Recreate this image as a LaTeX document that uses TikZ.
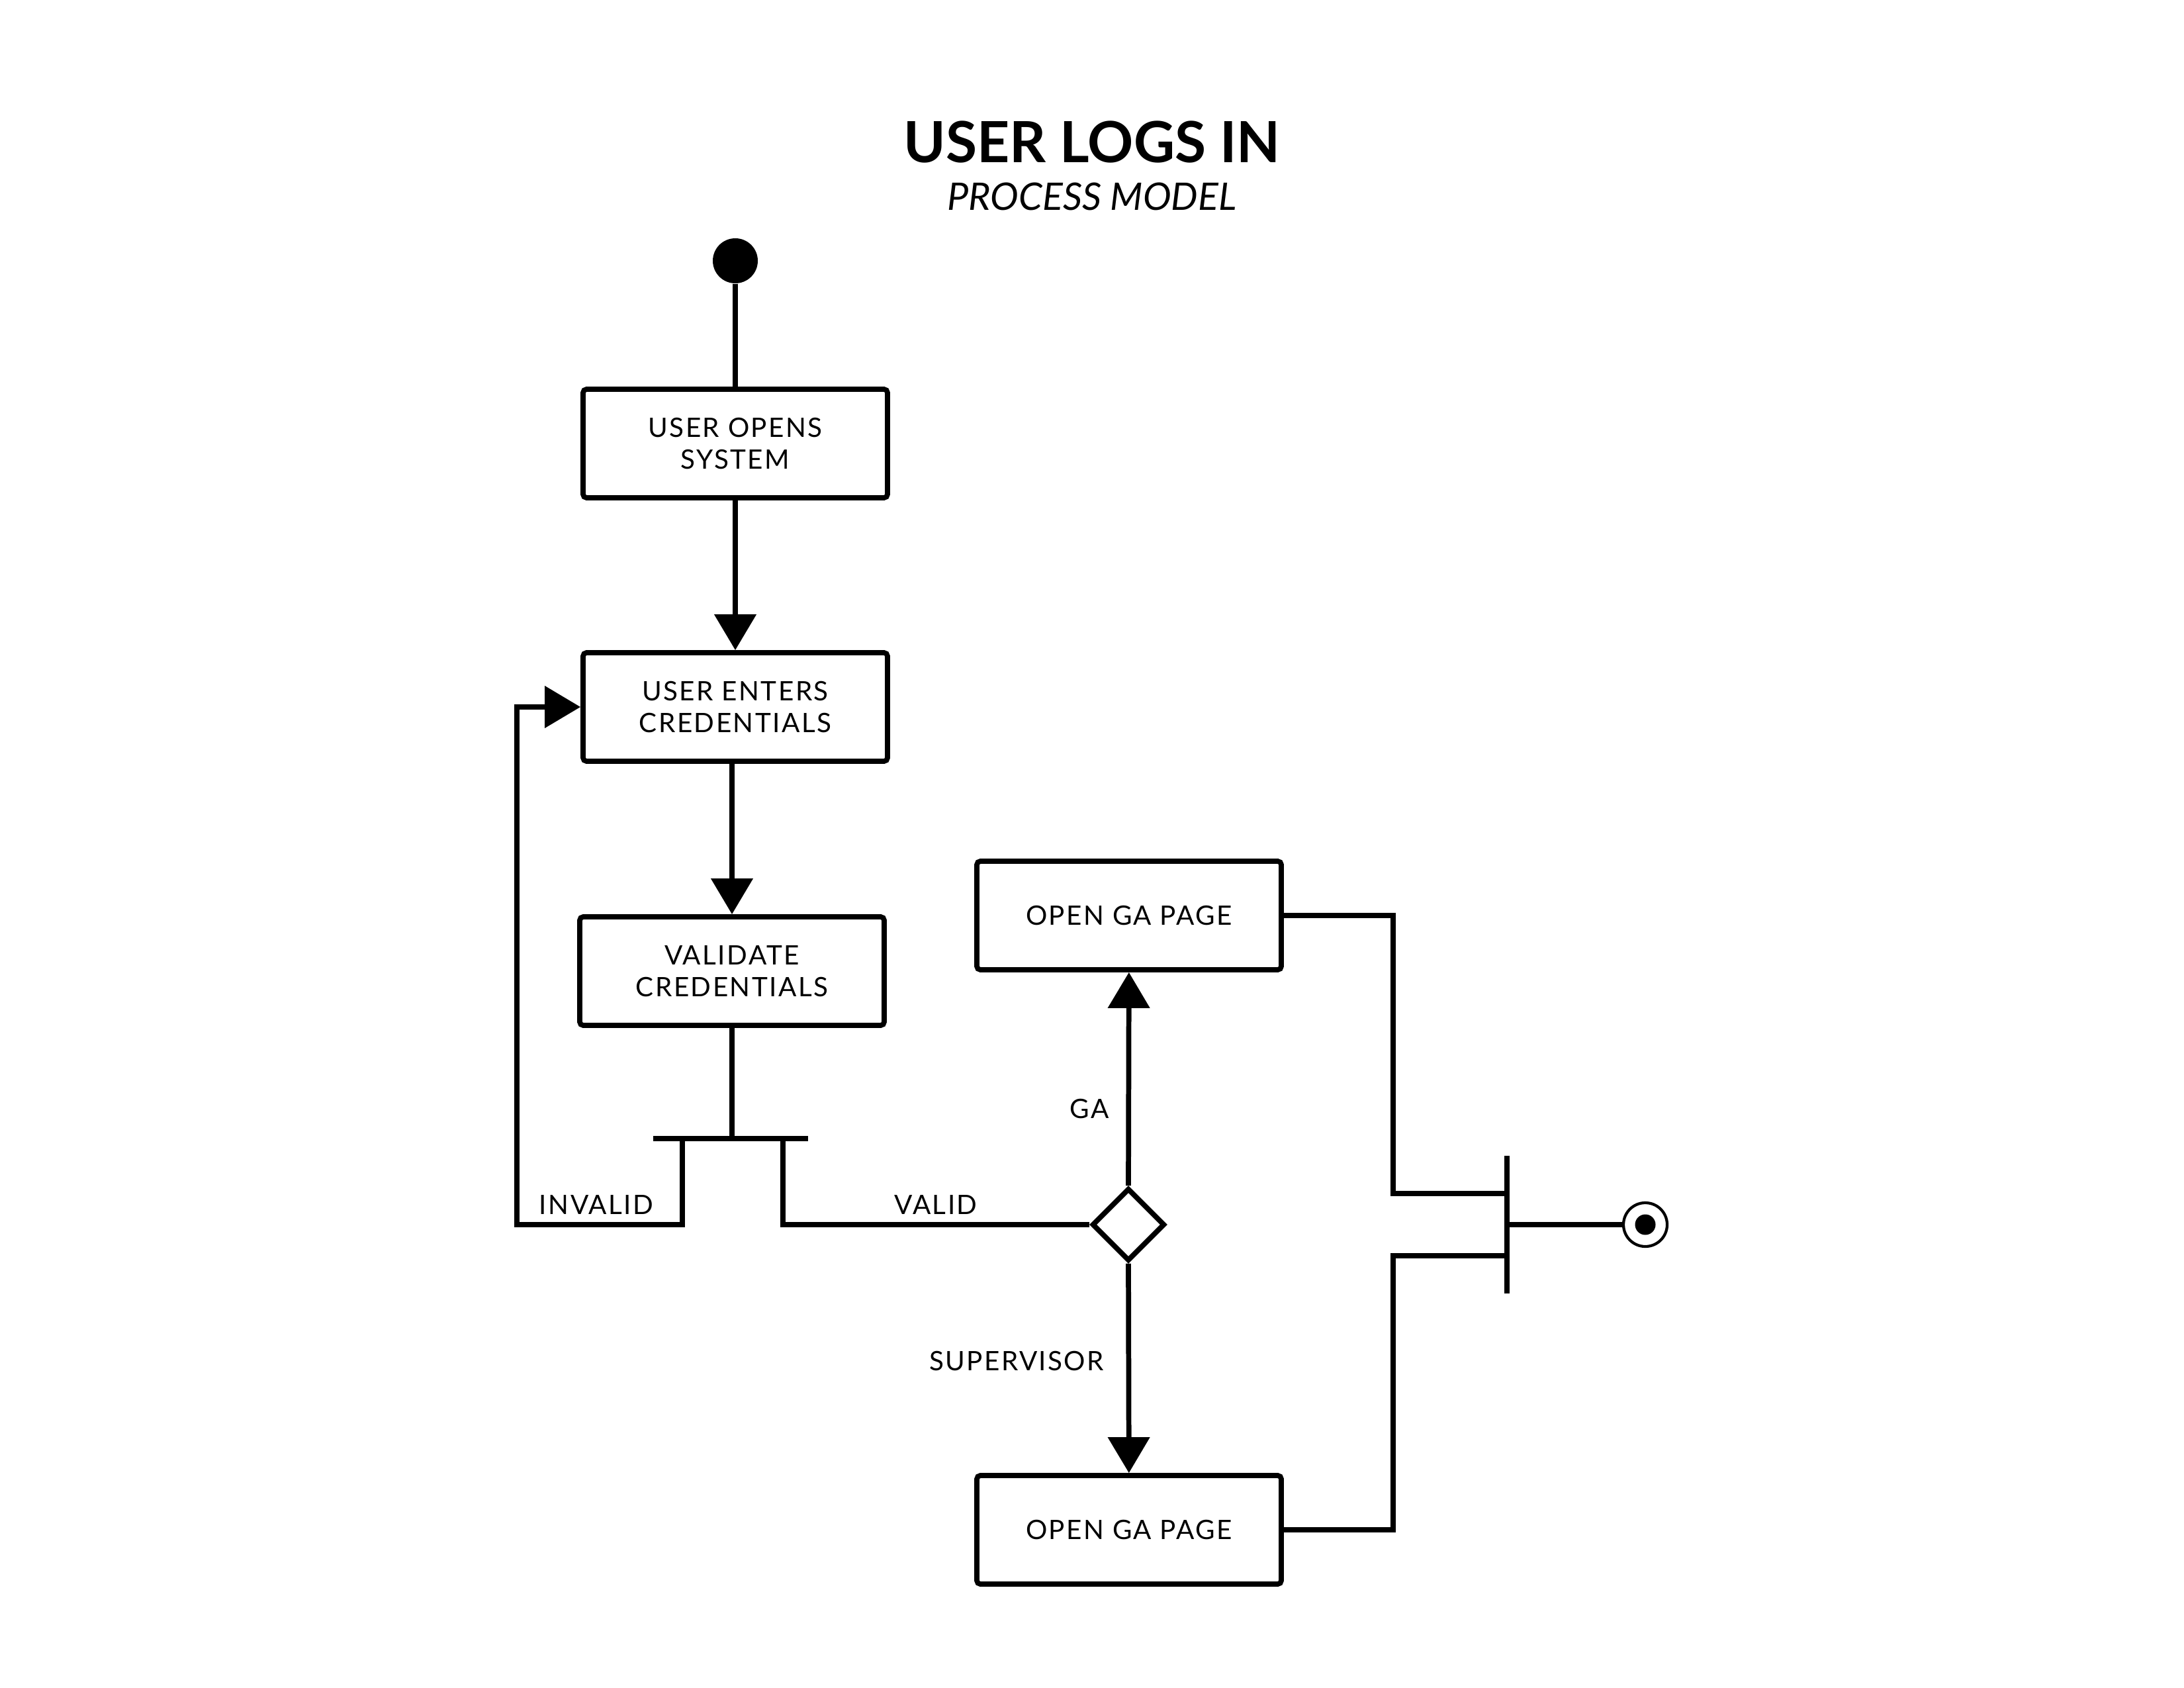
\documentclass[tikz,border=0pt]{standalone}
\usepackage{fontspec}
\setmainfont{Lato}
\newfontfamily\boxfont{Lato}[LetterSpace=6]
\usetikzlibrary{arrows.meta,shapes.geometric}
\tikzset{
	actbox/.style={draw,line width=2.2pt,rounded corners=1.5pt,minimum width=4.6cm,minimum height=1.64cm,inner sep=0pt,align=center,font=\boxfont\fontsize{11.5}{13.8}\selectfont},
	guardtext/.style={font=\boxfont\fontsize{11.5}{13.8}\selectfont},
	flow/.style={line width=2.2pt,arrows={-{Triangle[width=0.62cm,length=0.54cm]}}},
	wire/.style={line width=2.2pt},
	bar/.style={fill,inner sep=0pt}
}
\newcommand{\activity}[4]{\node[actbox](#1) at (#3,#4) {#2};}
\newcommand{\guard}[4]{\node[guardtext](#1) at (#3,#4) {#2};}

\begin{document}
\begin{tikzpicture}
	\useasboundingbox (0,0) rectangle (33,-25.5);

	\node(title) at (16.50,-2.15) {\bfseries\fontsize{24.4}{29}\selectfont USER LOGS IN};
	\node(subtitle) at (16.50,-2.97) {\itshape\fontsize{16.3}{19}\selectfont PROCESS MODEL};

	\node[circle,fill,inner sep=0pt,minimum size=0.68cm](start_dot) at (11.11,-3.94) {};
	\activity{user_opens}{USER OPENS\\SYSTEM}{11.11}{-6.70}
	\activity{user_enters}{USER ENTERS\\CREDENTIALS}{11.11}{-10.68}
	\activity{validate}{VALIDATE\\CREDENTIALS}{11.06}{-14.67}
	\draw[wire] (start_dot) -- (user_opens);
	\draw[flow] (user_opens) -- (user_enters);
	\draw[flow] (validate.north |- user_enters.south) -- (validate);

	% fork after validation
	\node[bar,minimum width=2.34cm,minimum height=0.075cm](fork_bar) at (11.04,-17.20) {};
	\coordinate (fork_l) at (10.31,-17.20);
	\coordinate (fork_r) at (11.83,-17.20);
	\draw[wire] (validate) -- (validate |- fork_bar.north);
	\draw[flow] (fork_l) |- (7.81,-18.50) |- (user_enters.west);
	\guard{lab_invalid}{INVALID}{9.01}{-18.20}

	\node[diamond,draw,line width=2.2pt,inner sep=0pt,minimum size=1.1cm](choice) at (17.05,-18.50) {};
	\draw[wire] (fork_r) |- (choice.west);
	\guard{lab_valid}{VALID}{14.14}{-18.20}

	\activity{ga_page}{OPEN GA PAGE}{17.06}{-13.83}
	\activity{sup_page}{OPEN GA PAGE}{17.06}{-23.11}
	\draw[flow] (choice.north) -- (ga_page);
	\draw[flow] (choice.south) -- (sup_page);
	\guard{lab_ga}{GA}{16.46}{-16.75}
	\guard{lab_sup}{SUPERVISOR}{15.36}{-20.56}

	% join and end
	\node[bar,minimum width=0.075cm,minimum height=2.08cm](join_bar) at (22.77,-18.50) {};
	\coordinate (join_a) at (22.77,-18.03);
	\coordinate (join_b) at (22.77,-18.97);
	\draw[wire] (ga_page.east) -| (21.05,-18.03) -- (join_a);
	\draw[wire] (sup_page.east) -| (21.05,-18.97) -- (join_b);
	\node[circle,draw,line width=1.2pt,inner sep=0pt,minimum size=0.66cm](end_dot) at (24.86,-18.50) {};
	\fill (end_dot.center) circle (0.155);
	\draw[wire] (join_bar) -- (end_dot);
\end{tikzpicture}
\end{document}
